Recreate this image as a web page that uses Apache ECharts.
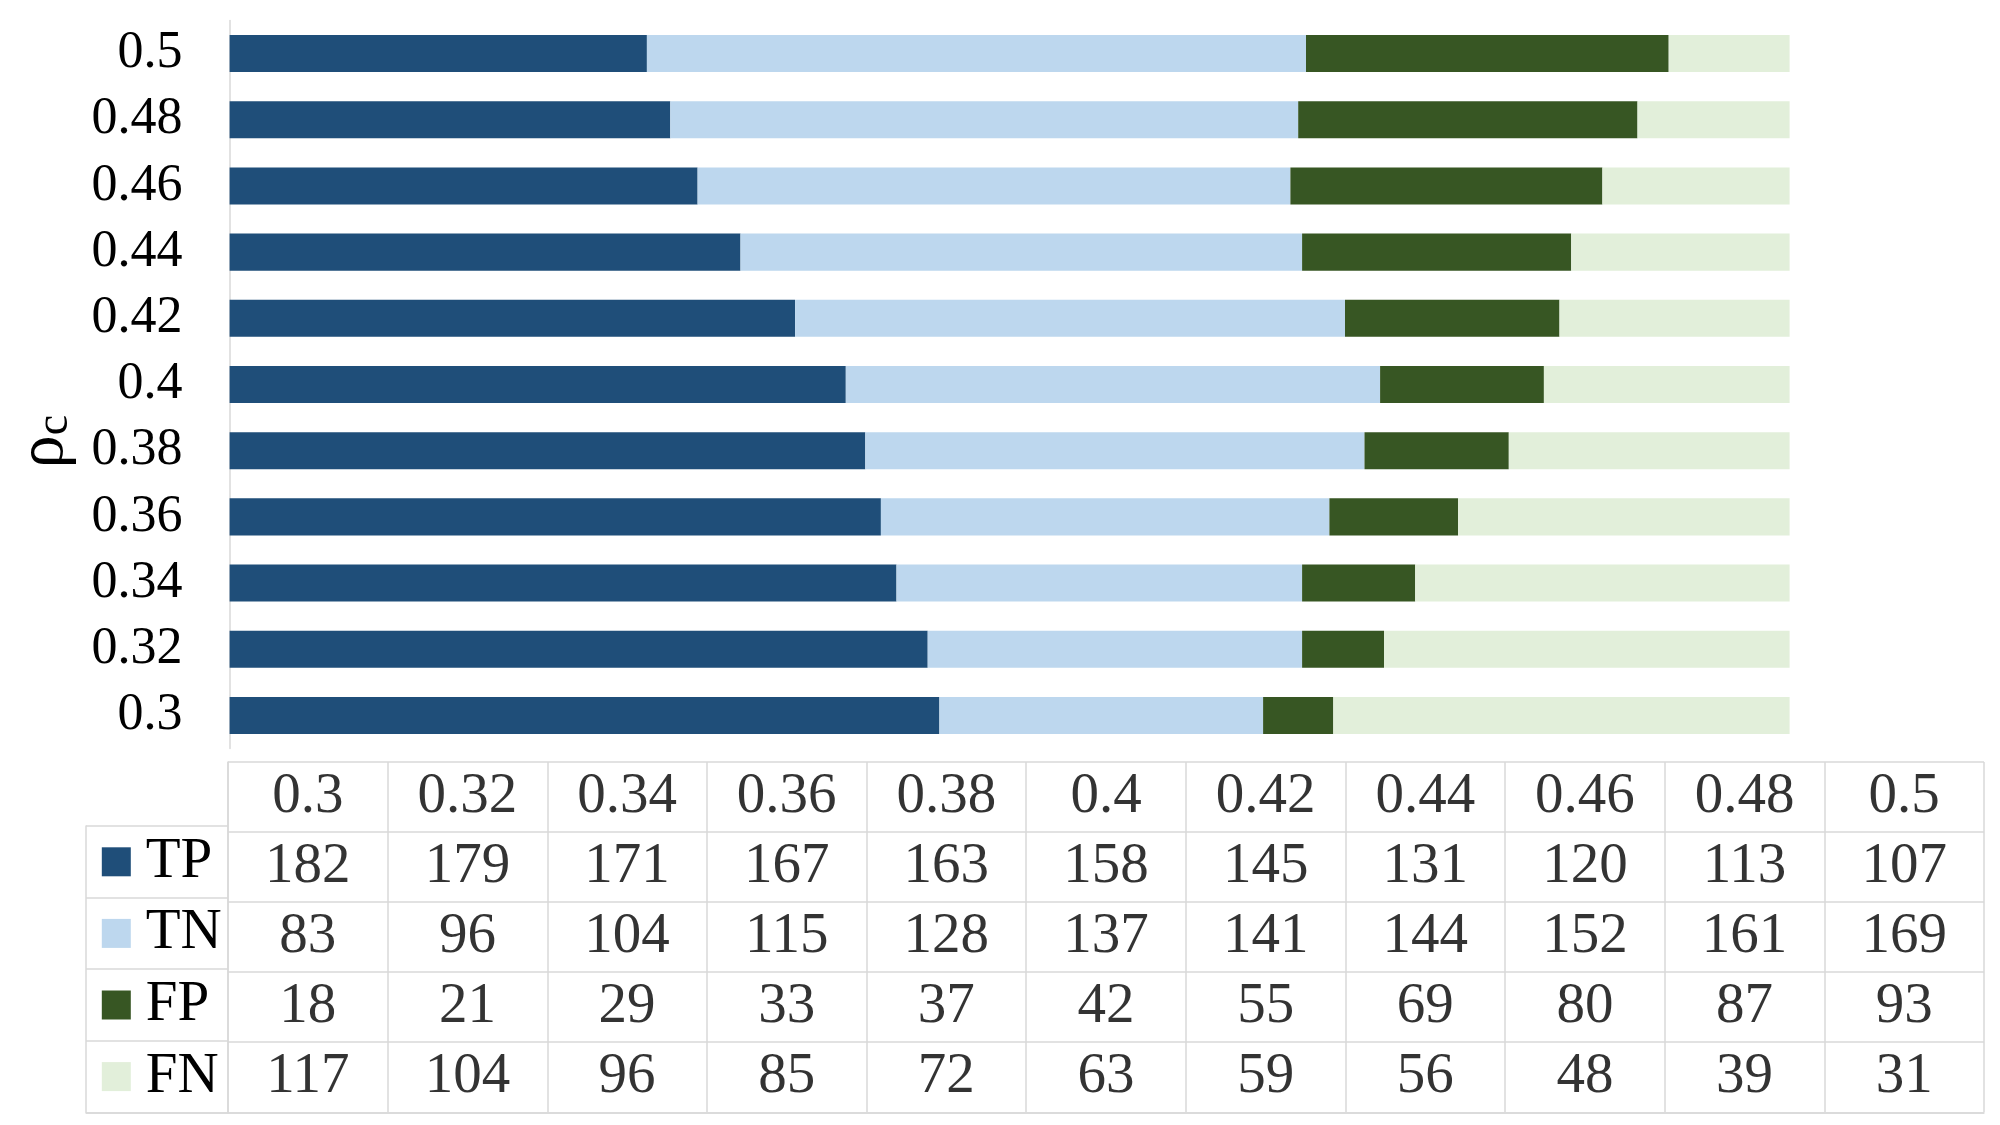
<!DOCTYPE html>
<html>
<head>
<meta charset="utf-8">
<script src="https://cdn.jsdelivr.net/npm/echarts@6/dist/echarts.min.js"></script>
<style>html,body{margin:0;padding:0;background:#fff}#c{width:2000px;height:1125px}</style>
</head>
<body>
<div id="c"></div>
<script>
const categories = ['0.3','0.32','0.34','0.36','0.38','0.4','0.42','0.44','0.46','0.48','0.5'];
const seriesNames = ['TP','TN','FP','FN'];
const TP = [182,179,171,167,163,158,145,131,120,113,107];
const TN = [83,96,104,115,128,137,141,144,152,161,169];
const FP = [18,21,29,33,37,42,55,69,80,87,93];
const FN = [117,104,96,85,72,63,59,56,48,39,31];
const seriesValues = [TP, TN, FP, FN];
const colors = ['#1F4E79','#BDD7EE','#375623','#E2EFDA'];

const FONT = '"Liberation Serif", "Times New Roman", serif';
const LINE = '#d9d9d9';

// table cells built from the arrays
const tableRows = [''].concat(seriesNames);
const tableCells = [];
categories.forEach((c, i) => {
  tableCells.push([i, 0, c]);
  seriesValues.forEach((vals, r) => tableCells.push([i, r + 1, String(vals[i])]));
});

const chart = echarts.init(document.getElementById('c'), null, {renderer: 'canvas'});
const option = {
  animation: false,
  backgroundColor: '#fff',
  color: colors,
  legend: {
    data: seriesNames,
    orient: 'vertical',
    left: 101.8,
    top: 826,
    padding: 0,
    itemGap: 0,
    itemWidth: 29,
    itemHeight: 29,
    icon: 'rect',
    selectedMode: false,
    textStyle: {fontFamily: FONT, fontSize: 57, color: '#000', lineHeight: 71.6, padding: [0,0,0,10]}
  },
  grid: [
    {left: 229.6, right: 210.4, top: 20.5, bottom: 376.5, outerBoundsMode: 'none'},
    {left: 228, right: 16, top: 762, bottom: 12.7, outerBoundsMode: 'none'},
    {left: 86, right: 1772, top: 826, bottom: 12.7, outerBoundsMode: 'none'}
  ],
  xAxis: [
    {gridIndex: 0, type: 'value', min: 0, max: 400, show: false},
    {gridIndex: 1, type: 'category', data: categories, boundaryGap: true,
     axisLine: {show: true, lineStyle: {color: LINE, width: 1.5}}, axisTick: {show: false}, axisLabel: {show: false},
     splitLine: {show: true, interval: 0, lineStyle: {color: LINE, width: 1.5}}},
    {gridIndex: 2, type: 'category', data: [''], boundaryGap: true,
     axisLine: {show: true, lineStyle: {color: LINE, width: 1.5}}, axisTick: {show: false}, axisLabel: {show: false},
     splitLine: {show: false}}
  ],
  yAxis: [
    {gridIndex: 0, type: 'category', data: categories,
     axisLine: {show: true, lineStyle: {color: LINE, width: 1.5}}, axisTick: {show: false},
     axisLabel: {interval: 0, hideOverlap: false, fontFamily: FONT, fontSize: 52, color: '#000', margin: 47, padding: [10,0,0,0]},
     name: '{r|ρ}{c|c}', nameLocation: 'middle', nameRotate: 90, nameGap: 152,
     nameTextStyle: {padding: [0, 114, 0, 0], rich: {r: {fontFamily: FONT, fontSize: 66, color: '#000'}, c: {fontFamily: FONT, fontSize: 46, color: '#000', verticalAlign: 'bottom'}}}},
    {gridIndex: 1, type: 'category', data: tableRows, inverse: true, boundaryGap: true,
     axisLine: {show: true, lineStyle: {color: LINE, width: 1.5}}, axisTick: {show: false}, axisLabel: {show: false},
     splitLine: {show: true, interval: 0, lineStyle: {color: LINE, width: 1.5}}},
    {gridIndex: 2, type: 'category', data: seriesNames, inverse: true, boundaryGap: true,
     axisLine: {show: true, lineStyle: {color: LINE, width: 1.5}}, axisTick: {show: false}, axisLabel: {show: false},
     splitLine: {show: true, interval: 0, lineStyle: {color: LINE, width: 1.5}}}
  ],
  series: seriesNames.map((n, k) => ({
    name: n, type: 'bar', stack: 'all', xAxisIndex: 0, yAxisIndex: 0,
    barCategoryGap: '44%', data: seriesValues[k], itemStyle: {color: colors[k]}
  })).concat([{
    name: 'table', type: 'scatter', xAxisIndex: 1, yAxisIndex: 1, symbolSize: 0, silent: true,
    data: tableCells,
    label: {show: true, position: 'inside', formatter: p => p.value[2], fontFamily: FONT, fontSize: 57, color: '#000', padding: [0,0,2,0]}
  }])
};
chart.setOption(option);
</script>
</body>
</html>
